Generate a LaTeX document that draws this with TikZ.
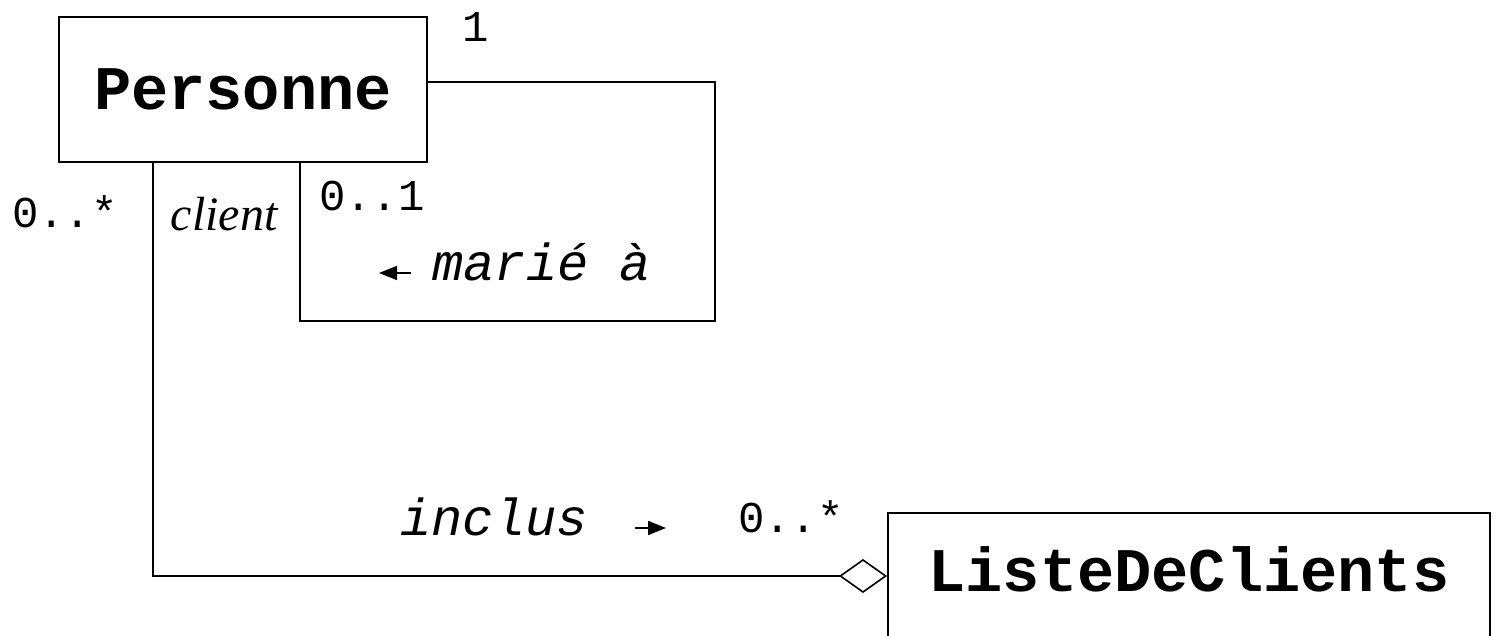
\documentclass[tikz,border=0pt]{standalone}
\usepackage{fontspec}
\setmonofont{Liberation Mono}
\newfontfamily\timesfont{Liberation Serif}
\usetikzlibrary{arrows.meta}
\tikzset{
  classe/.style={draw, line width=1pt, inner sep=0pt, font=\ttfamily\bfseries\fontsize{31}{36}\selectfont},
  mult/.style={inner sep=0pt, font=\ttfamily\fontsize{22}{26}\selectfont},
  nomassoc/.style={inner sep=0pt, font=\ttfamily\itshape\fontsize{26}{31}\selectfont},
  lien/.style={line width=0.8pt},
  sens/.style={-{Triangle[length=9pt,width=7pt]}, line width=0.9pt}
}
\begin{document}
\begin{tikzpicture}[x=0.5pt,y=-0.5pt]
\clip (0,0) rectangle (1499,636);
\node[classe, minimum width=184pt, minimum height=72.5pt, text height=21pt, text depth=1pt] (pers) at (243,89.5) {Personne};
\node[classe, minimum width=301pt, minimum height=63pt, text height=16pt, text depth=1pt] (liste) at (1189,576) {ListeDeClients};
\coordinate (s1) at (715,82);
\coordinate (s2) at (715,321);
\coordinate (s3) at (300,321);
\coordinate (c1) at (153,576);
\draw[lien] (pers.east |- s1) -- (s1) -- (s2) -- (s3) -- (s3 |- pers.south);
\draw[lien, -{Diamond[open,length=24pt,width=17pt]}] (pers.south -| c1) -- (c1) -- (liste.west |- c1);
\node[mult] (m1) at (476,27) {1};
\node[mult] (m2) at (372,196) {0..1};
\node[mult] (m3) at (65,212) {0..*};
\node[mult] (m4) at (791,517) {0..*};
\node[inner sep=0pt, font=\timesfont\itshape\fontsize{24}{28}\selectfont] (role) at (224,214) {client};
\node[nomassoc, anchor=base west] (marie) at (432,280) {marié à};
\node[nomassoc, anchor=base west] (inclus) at (400,535) {inclus};
\draw[sens] ([xshift=-10.5pt,yshift=3.5pt]marie.base west) -- ++(-16pt,0);
\draw[sens] ([xshift=23.5pt,yshift=3.5pt]inclus.base east) -- ++(15.5pt,0);
\end{tikzpicture}
\end{document}
